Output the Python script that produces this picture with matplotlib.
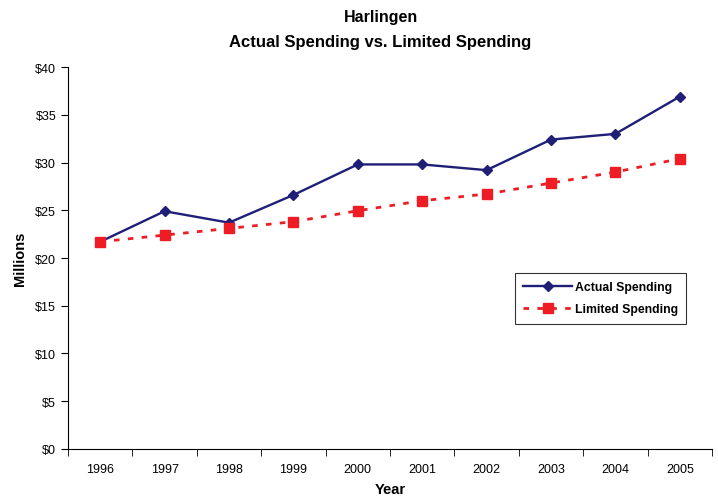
import matplotlib
matplotlib.use("Agg")
import matplotlib.pyplot as plt
from matplotlib.ticker import FuncFormatter, FixedLocator

# Dépenses annuelles (millions de dollars)
annees = ["1996", "1997", "1998", "1999", "2000", "2001", "2002", "2003", "2004", "2005"]
depenses_reelles = [21.7, 24.9, 23.7, 26.6, 29.8, 29.8, 29.2, 32.4, 33.0, 36.9]
depenses_limitees = [21.7, 22.4, 23.1, 23.8, 24.95, 26.0, 26.7, 27.85, 29.0, 30.4]

plt.rcParams["font.family"] = ["Liberation Sans", "DejaVu Sans"]

fig = plt.figure(figsize=(7.18, 5.02), dpi=100)
ax = fig.add_axes([0.0947, 0.1036, 0.8969, 0.7609])

x = list(range(len(annees)))
ax.plot(x, depenses_reelles, color="#1F1F78", lw=1.7, marker="D", ms=5,
        label="Actual Spending")
ax.plot(x, depenses_limitees, color="#EE1C25", lw=2, ls=(0, (2, 3)), marker="s", ms=7,
        label="Limited Spending")

ax.set_xlim(-0.5, len(annees) - 0.5)
ax.set_ylim(0, 40)
ax.set_yticks(range(0, 41, 5))
ax.yaxis.set_major_formatter(FuncFormatter(lambda v, p: f"${v:.0f}"))

# étiquettes au centre, graduations entre les catégories
ax.set_xticks(x)
ax.set_xticklabels(annees)
ax.xaxis.set_minor_locator(FixedLocator([i - 0.5 for i in range(len(annees) + 1)]))
ax.tick_params(axis="x", which="major", length=0, pad=10, labelsize=9)
ax.tick_params(axis="x", which="minor", length=5, direction="out")
ax.tick_params(axis="y", length=5, direction="out", labelsize=9)

for s in ["top", "right"]:
    ax.spines[s].set_visible(False)

ax.set_xlabel("Year", fontsize=10.5, fontweight="bold", labelpad=5)
ax.set_ylabel("Millions", fontsize=10.5, fontweight="bold", labelpad=6)
fig.text(0.53, 0.965, "Harlingen", ha="center", va="center", fontsize=11.5, fontweight="bold")
fig.text(0.53, 0.915, "Actual Spending vs. Limited Spending", ha="center", va="center",
         fontsize=12, fontweight="bold")

leg = ax.legend(loc="upper left", bbox_to_anchor=(0.694, 0.461), fontsize=8.8,
                frameon=True, fancybox=False, edgecolor="black", borderpad=0.7,
                handlelength=4.0, handletextpad=0.2, labelspacing=0.8,
                borderaxespad=0)
for t in leg.get_texts():
    t.set_fontweight("bold")
leg.get_frame().set_linewidth(0.8)

fig.savefig("out.png", dpi=100)
